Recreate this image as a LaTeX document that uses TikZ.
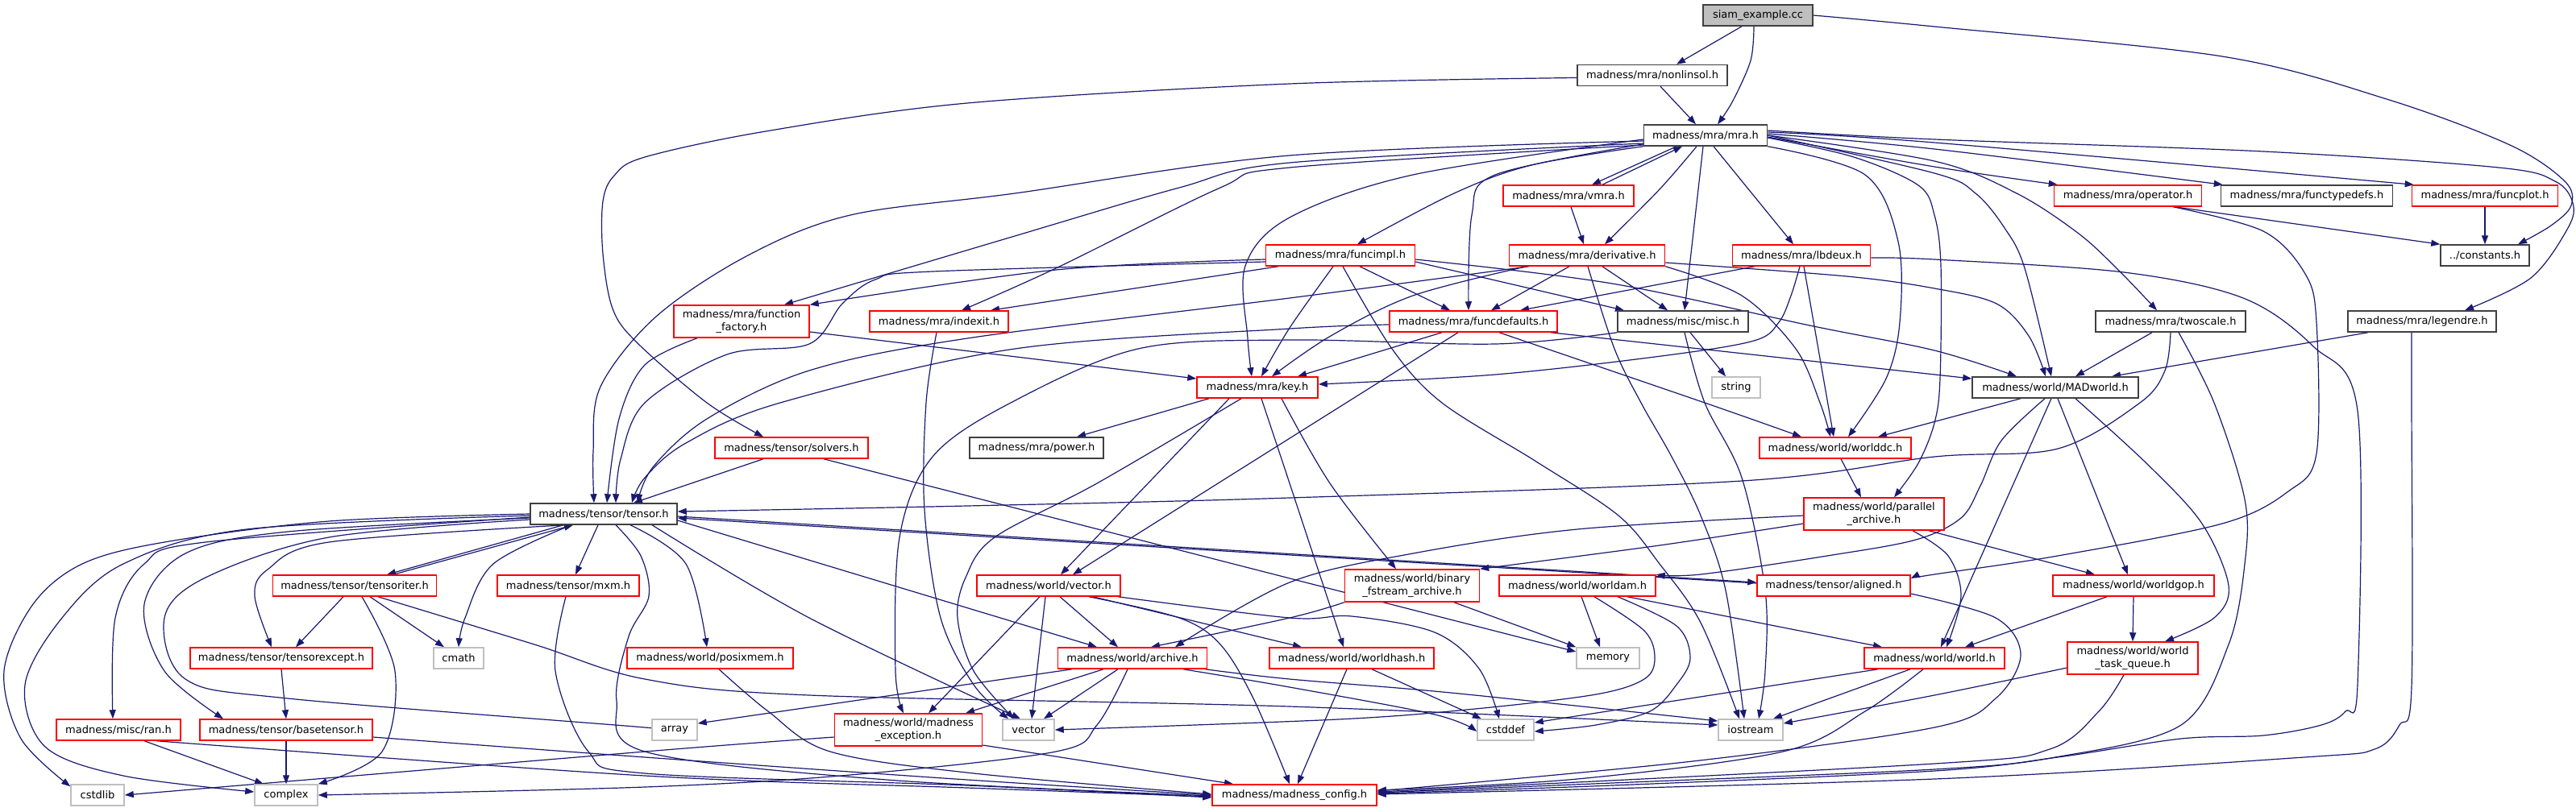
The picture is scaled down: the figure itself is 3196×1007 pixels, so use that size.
\documentclass[tikz,border=0pt]{standalone}
\usepackage{fontspec}
\setmainfont{DejaVu Sans}
\usetikzlibrary{arrows.meta,backgrounds}
\definecolor{edgec}{HTML}{191970}
\definecolor{redb}{HTML}{FF0000}
\definecolor{blackb}{HTML}{404040}
\definecolor{greyb}{HTML}{BFBFBF}
\newcommand\lblfont{\fontsize{13}{15.5}\selectfont}
\tikzset{
 nd/.style={draw, line width=1.5pt, fill=white, minimum height=26pt, inner sep=0pt, font=\lblfont, align=center},
 rn/.style={nd, draw=redb},
 bn/.style={nd, draw=blackb},
 gn/.style={nd, draw=greyb},
 tall/.style={minimum height=40pt},
 e/.style={draw=edgec, line width=1.2pt, -{Triangle[length=11pt,width=8pt]}},
}
\newcommand\edg[1]{\draw[e] plot[smooth, tension=0.55] coordinates {#1};}
\begin{document}
\begin{tikzpicture}[x=1pt,y=-1pt]
\useasboundingbox (0,0) rectangle (3196,1007);
% ---------- nodes ----------
\node[bn, fill=greyb, minimum width=136pt] (siam) at (2181,19) {siam\_example.cc};
\node[bn, minimum width=186pt] (nonlin) at (2050,93.5) {madness/mra/nonlinsol.h};
\node[bn, minimum width=153pt] (mra) at (2116,168) {madness/mra/mra.h};
\node[rn, minimum width=162pt] (vmra) at (1946,243) {madness/mra/vmra.h};
\node[rn, minimum width=183pt] (operator) at (2640,243) {madness/mra/operator.h};
\node[bn, minimum width=213pt] (functypedefs) at (2862,243) {madness/mra/functypedefs.h};
\node[rn, minimum width=181pt] (funcplot) at (3083,243) {madness/mra/funcplot.h};
\node[rn, minimum width=185pt] (funcimpl) at (1663,317) {madness/mra/funcimpl.h};
\node[rn, minimum width=193pt] (deriv) at (1969,317) {madness/mra/derivative.h};
\node[rn, minimum width=171pt] (lbdeux) at (2235,317) {madness/mra/lbdeux.h};
\node[bn, minimum width=110pt] (constants) at (3083,317) {../constants.h};
\node[rn, tall, minimum width=168pt] (funcfactory) at (920,399) {madness/mra/function\\\_factory.h};
\node[rn, minimum width=172pt] (indexit) at (1165,399) {madness/mra/indexit.h};
\node[rn, minimum width=208pt] (funcdef) at (1828,399) {madness/mra/funcdefaults.h};
\node[bn, minimum width=162pt] (misc) at (2088,399) {madness/misc/misc.h};
\node[bn, minimum width=186pt] (twoscale) at (2693,399) {madness/mra/twoscale.h};
\node[bn, minimum width=184pt] (legendre) at (3005,399) {madness/mra/legendre.h};
\node[rn, minimum width=150pt] (key) at (1560,481) {madness/mra/key.h};
\node[gn, minimum width=60pt] (string) at (2154,481) {string};
\node[bn, minimum width=206pt] (MADworld) at (2550,481) {madness/world/MADworld.h};
\node[rn, minimum width=190pt] (solvers) at (982,556) {madness/tensor/solvers.h};
\node[bn, minimum width=166pt] (power) at (1286,556) {madness/mra/power.h};
\node[rn, minimum width=188pt] (worlddc) at (2277,556) {madness/world/worlddc.h};
\node[bn, minimum width=182pt] (tensor) at (749,638) {madness/tensor/tensor.h};
\node[rn, tall, minimum width=174pt] (parallel) at (2325,638) {madness/world/parallel\\\_archive.h};
\node[rn, minimum width=203pt] (tensoriter) at (440,727) {madness/tensor/tensoriter.h};
\node[rn, minimum width=176pt] (mxm) at (705,727) {madness/tensor/mxm.h};
\node[rn, minimum width=178pt] (vectorh) at (1301,727) {madness/world/vector.h};
\node[rn, tall, minimum width=167pt] (binary) at (1752,727) {madness/world/binary\\\_fstream\_archive.h};
\node[rn, minimum width=194pt] (worldam) at (1957,727) {madness/world/worldam.h};
\node[rn, minimum width=190pt] (aligned) at (2275,727) {madness/tensor/aligned.h};
\node[rn, minimum width=200pt] (worldgop) at (2647,727) {madness/world/worldgop.h};
\node[rn, minimum width=226pt] (tensorexcept) at (349,817) {madness/tensor/tensorexcept.h};
\node[gn, minimum width=62pt] (cmath) at (569,817) {cmath};
\node[rn, minimum width=206pt] (posixmem) at (881,817) {madness/world/posixmem.h};
\node[rn, minimum width=185pt] (archive) at (1405,817) {madness/world/archive.h};
\node[rn, minimum width=204pt] (worldhash) at (1677,817) {madness/world/worldhash.h};
\node[gn, minimum width=78pt] (memory) at (1995,817) {memory};
\node[rn, minimum width=174pt] (worldh) at (2400,817) {madness/world/world.h};
\node[rn, tall, minimum width=162pt] (wtq) at (2646,817) {madness/world/world\\\_task\_queue.h};
\node[rn, minimum width=154pt] (ran) at (147,906) {madness/misc/ran.h};
\node[rn, minimum width=214pt] (basetensor) at (355,906) {madness/tensor/basetensor.h};
\node[gn, minimum width=56pt] (array) at (837,906) {array};
\node[rn, tall, minimum width=183pt] (mexc) at (1127,906) {madness/world/madness\\\_exception.h};
\node[gn, minimum width=64pt] (stdvector) at (1276,906) {vector};
\node[gn, minimum width=70pt] (cstddef) at (1868,906) {cstddef};
\node[gn, minimum width=80pt] (iostream) at (2172,906) {iostream};
\node[gn, minimum width=66pt] (cstdlib) at (121,987) {cstdlib};
\node[gn, minimum width=78pt] (complex) at (355,987) {complex};
\node[rn, minimum width=204pt] (config) at (1606,987) {madness/madness\_config.h};
% ---------- edges ----------
\begin{scope}[on background layer]
% siam
\draw[e] ([xshift=-20pt]siam.south) -- ([xshift=30pt]nonlin.north);
\edg{([xshift=-5pt]siam.south) (2172,75) (2150,125) ([xshift=15pt]mra.north)}
\edg{(siam.east) (2400,33) (2757,70) (2961,123) (3114,180) (3182,225) (3190,255) (3165,280) ([xshift=41pt]constants.north)}
% nonlinsol
\draw[e] ([xshift=10pt]nonlin.south) -- ([xshift=-12pt]mra.north);
\edg{([yshift=-3pt]nonlin.west) (1600,104) (1200,128) (950,163) (800,195) (762,218) (748,250) (748,315) (760,383) (790,425) (877,500) ([xshift=-35pt]solvers.north)}
% mra
\edg{([yshift=-7pt]mra.west) (1600,193) (1259,240) (1055,267) (928,317) (814,393) (745,480) (736,560) ([xshift=-12pt]tensor.north)}
\edg{([yshift=-10pt]mra.west) (1600,202) (1463,233) (1259,293) ([xshift=53pt]funcfactory.north)}
\edg{([yshift=-12pt]mra.west) (1600,208) (1514,233) (1310,333) ([xshift=28pt]indexit.north)}
\edg{(mra.south west) (1900,205) (1804,240) ([xshift=21pt]funcimpl.north)}
\edg{([yshift=-5pt]mra.west) (1753,217) (1600,270) (1545,330) (1548,420) ([xshift=-7pt]key.north)}
\edg{([yshift=-11pt]mra.west) (1855,217) (1826,267) ([xshift=-6pt]funcdef.north)}
\draw[e] ([xshift=-36pt]mra.south) -- ([xshift=29pt]vmra.north);
\draw[e] ([xshift=42pt]vmra.north) -- ([xshift=-29pt]mra.south);
\edg{([xshift=-11pt]mra.south) (2059,235) ([xshift=22pt]deriv.north)}
\draw[e] ([xshift=-3pt]mra.south) -- ([xshift=2pt]misc.north);
\draw[e] ([xshift=10pt]mra.south) -- ([xshift=-10pt]lbdeux.north);
\edg{(mra.south east) (2314,217) (2355,300) (2357,400) (2340,470) ([xshift=16pt]worlddc.north)}
\edg{([yshift=-3pt]mra.east) (2300,195) (2380,230) (2400,267) (2408,330) (2407,470) (2400,525) (2380,575) ([xshift=25pt]parallel.north)}
\edg{(mra.east) (2400,215) (2451,240) (2487,283) (2512,333) ([xshift=-5pt]MADworld.north)}
\edg{(mra.east) (2400,200) (2502,240) (2579,290) (2630,337) ([xshift=-17pt]twoscale.north)}
\edg{([yshift=-2pt]mra.east) (2400,207) ([xshift=5pt]operator.north west)}
\edg{([yshift=2pt]mra.east) (2400,185) ([xshift=3pt]functypedefs.north west)}
\edg{([yshift=4pt]mra.east) (2400,177) ([xshift=3pt]funcplot.north west)}
\edg{([yshift=6pt]mra.east) (2400,173) (2808,188) (3100,208) (3170,225) (3192,252) (3186,283) (3140,345) ([xshift=53pt]legendre.north)}
% vmra, funcplot, operator
\draw[e] ([xshift=3pt]vmra.south) -- ([xshift=-4pt]deriv.north);
\draw[e] (funcplot.south) -- (constants.north);
\draw[e] ([xshift=58pt]operator.south) -- (constants.north west);
\edg{([xshift=56pt]operator.south) (2808,287) (2860,340) (2874,400) (2874,563) (2839,610) (2757,650) (2553,690) (2400,713) ([yshift=9pt]aligned.east)}
% funcimpl
\edg{([yshift=-5pt]funcimpl.west) (1310,335) (funcfactory.north east)}
\edg{([yshift=-8pt]funcimpl.west) (1157,337) (1086,347) (1045,377) (1004,427) (902,440) (800,500) (770,570) ([xshift=15pt]tensor.north)}
\draw[e] ([xshift=-77pt]funcimpl.south) -- ([xshift=64pt]indexit.north);
\edg{([xshift=-9pt]funcimpl.south) (1600,407) ([xshift=5pt]key.north)}
\draw[e] ([xshift=24pt]funcimpl.south) -- ([xshift=-29pt]funcdef.north);
\draw[e] ([yshift=-8pt]funcimpl.east) -- ([xshift=-73pt]misc.north);
\edg{([yshift=-5pt]funcimpl.east) (2000,352) (2250,405) (2400,435) ([xshift=-48pt]MADworld.north)}
\edg{([xshift=3pt]funcimpl.south) (1727,433) (1789,500) (1906,573) (2008,640) (2059,700) (2110,773) ([xshift=-14pt]iostream.north)}
% derivative
\edg{(deriv.south east) (2161,367) (2228,433) (2258,500) ([xshift=-6pt]worlddc.north)}
\edg{([yshift=-9pt]deriv.east) (2291,343) (2400,358) (2477,377) (2517,417) ([xshift=-12pt]MADworld.north)}
\edg{([xshift=-72pt]deriv.south) (1600,370) (1200,420) (1004,460) (877,520) (810,580) ([xshift=42pt]tensor.north)}
\edg{([xshift=-75pt]deriv.south) (1753,367) (1651,417) ([xshift=18pt]key.north)}
\draw[e] ([xshift=-22pt]deriv.south) -- ([xshift=22pt]funcdef.north);
\draw[e] ([xshift=19pt]deriv.south) -- ([xshift=-19pt]misc.north);
\edg{([xshift=1pt]deriv.south) (2003,433) (2036,500) (2074,567) (2110,640) (2141,733) ([xshift=-8pt]iostream.north)}
% lbdeux
\draw[e] ([xshift=-58pt]lbdeux.south) -- ([xshift=58pt]funcdef.north);
\edg{([xshift=-2pt]lbdeux.south) (2222,367) (2207,400) (2176,423) (2061,442) (1855,465) ([yshift=4pt]key.east)}
\draw[e] ([xshift=3pt]lbdeux.south) -- ([xshift=-2pt]worlddc.north);
\edg{([yshift=-3pt]lbdeux.east) (2400,322) (2635,338) (2783,370) (2870,430) (2925,510) (2925,850) (2910,883) (2880,900) (2808,913) (2706,917) (2553,940) (2400,957) (2000,975) ([yshift=2pt]config.east)}
% misc
\draw[e] ([xshift=9pt]misc.south) -- ([xshift=-13pt]string.north);
\edg{([xshift=2pt]misc.south) (2115,500) (2161,593) (2190,733) (2190,833) ([xshift=10pt]iostream.north)}
\edg{(misc.south west) (1855,427) (1600,422) (1412,433) (1254,500) (1157,567) (1116,667) (1111,833) ([xshift=-6pt]mexc.north)}
% funcdefaults
\edg{([xshift=32pt]funcdef.south) (2115,500) ([xshift=-42pt]worlddc.north)}
\draw[e] ([xshift=96pt]funcdef.south) -- ([yshift=11pt]MADworld.west);
\edg{([yshift=-4pt]funcdef.west) (1600,408) (1259,433) (968,500) (851,550) (800,593) ([xshift=35pt]tensor.north)}
\draw[e] ([xshift=-39pt]funcdef.south) -- ([xshift=50pt]key.north);
\draw[e] ([xshift=-19pt]funcdef.south) -- ([xshift=30pt]vectorh.north);
% function_factory, indexit
\edg{([xshift=-55pt]funcfactory.south) (800,453) (768,520) ([xshift=4pt]tensor.north)}
\draw[e] ([yshift=-13pt]funcfactory.east) -- ([yshift=11pt]key.west);
\edg{([xshift=-3pt]indexit.south) (1149,500) (1147,633) (1167,767) (1208,850) ([xshift=-25pt]stdvector.north)}
% key
\draw[e] ([xshift=-60pt]key.south) -- ([xshift=50pt]power.north);
\draw[e] ([xshift=-35pt]key.south) -- ([xshift=15pt]vectorh.north);
\edg{([xshift=-20pt]key.south) (1361,600) (1234,667) (1198,717) (1188,767) (1208,833) ([xshift=-18pt]stdvector.north)}
\edg{([xshift=30pt]key.south) (1650,600) ([xshift=-20pt]binary.north)}
\edg{([xshift=5pt]key.south) (1600,600) ([xshift=-10pt]worldhash.north)}
% solvers
\draw[e] ([xshift=-35pt]solvers.south) -- ([xshift=37pt]tensor.north);
\draw[e] ([xshift=40pt]solvers.south) -- ([yshift=8pt]memory.west);
% tensor
\draw[e] ([xshift=-50pt]tensor.south) -- ([xshift=40pt]tensoriter.north);
\draw[e] ([xshift=48pt]tensoriter.north) -- ([xshift=-38pt]tensor.south);
\edg{([xshift=-47pt]tensor.south) (408,673) (332,707) (316,740) ([xshift=-12pt]tensorexcept.north)}
\edg{([xshift=-40pt]tensor.south) (612,700) (577,767) (cmath.north)}
\draw[e] ([xshift=-7pt]tensor.south) -- ([xshift=9pt]mxm.north);
\edg{(tensor.west) (408,647) (204,673) (102,700) (41,750) (5,833) (26,917) ([yshift=-3pt]cstdlib.north west)}
\edg{([yshift=-2pt]tensor.west) (306,657) (153,700) (77,767) (31,850) (56,927) (153,963) ([yshift=4pt]complex.west)}
\edg{([yshift=-4pt]tensor.west) (255,673) (179,700) (143,767) ([xshift=-7pt]ran.north)}
\edg{([yshift=-5pt]tensor.west) (357,660) (230,687) (179,750) (204,833) ([xshift=-78pt]basetensor.north)}
\edg{([yshift=-7pt]tensor.west) (408,667) (255,717) (204,767) (230,843) (357,867) (800,903) (array.west)}
\edg{([xshift=33pt]tensor.south) (851,700) ([xshift=-4pt]posixmem.north)}
\edg{([xshift=60pt]tensor.south) (1004,767) ([xshift=-10pt]stdvector.north)}
\draw[e] ([yshift=-8pt]tensor.east) -- ([xshift=-44pt]archive.north);
\draw[e] ([yshift=-3pt]tensor.east) -- ([yshift=4pt]aligned.west);
\draw[e] ([yshift=3pt]aligned.west) -- ([yshift=-5pt]tensor.east);
\edg{([xshift=15pt]tensor.south) (795,690) (805,740) (780,790) (765,870) (800,933) (1100,968) ([yshift=-1pt]config.west)}
% tensoriter
\draw[e] ([xshift=-14pt]tensoriter.south) -- ([xshift=18pt]tensorexcept.north);
\draw[e] ([xshift=19pt]tensoriter.south) -- ([xshift=-18pt]cmath.north);
\edg{([xshift=9pt]tensoriter.south) (490,833) (474,933) (complex.north east)}
\edg{([xshift=29pt]tensoriter.south) (663,800) (800,843) (1004,863) (1600,877) ([yshift=6pt]iostream.west)}
% tensorexcept, ran, basetensor, mxm, posixmem
\draw[e] (tensorexcept.south) -- (basetensor.north);
\draw[e] ([xshift=32pt]ran.south) -- ([xshift=-28pt]complex.north);
\edg{([xshift=47pt]ran.south) (800,963) (1200,978) ([yshift=-2pt]config.west)}
\draw[e] (basetensor.south) -- (complex.north);
\edg{([yshift=-9pt]basetensor.east) (800,940) (1200,968) (config.west)}
\edg{([xshift=-3pt]mxm.south) (689,833) (730,933) (800,960) (1200,975) ([yshift=-3pt]config.west)}
\edg{([xshift=11pt]posixmem.south) (953,883) (1030,933) (1208,960) ([yshift=1pt]config.west)}
% madness_exception
\edg{([yshift=-9pt]mexc.west) (800,933) (cstdlib.east)}
\draw[e] ([yshift=-19pt]mexc.east) -- ([xshift=-76pt]config.north);
% vector.h
\draw[e] ([xshift=-11pt]vectorh.south) -- ([xshift=25pt]mexc.north);
\draw[e] ([xshift=-4pt]vectorh.south) -- ([xshift=4pt]stdvector.north);
\draw[e] ([xshift=14pt]vectorh.south) -- ([xshift=-18pt]archive.north);
\edg{([xshift=50pt]vectorh.south) (1463,767) (1514,800) (1555,867) ([xshift=-6pt]config.north)}
\draw[e] ([xshift=55pt]vectorh.south) -- ([xshift=-62pt]worldhash.north);
\edg{([xshift=86pt]vectorh.south) (1600,767) (1677,765) (1780,785) (1835,830) ([xshift=-8pt]cstddef.north)}
% archive
\draw[e] ([xshift=-36pt]archive.south) -- ([xshift=71pt]mexc.north);
\draw[e] ([xshift=-75pt]archive.south) -- ([yshift=8pt]array.east);
\draw[e] ([xshift=-18pt]archive.south) -- ([xshift=19pt]stdvector.north);
\edg{([xshift=-6pt]archive.south) (1361,900) (1310,933) (1055,962) (800,977) (complex.east)}
\edg{([xshift=63pt]archive.south) (1600,853) (1780,887) ([yshift=-2pt]cstddef.west)}
\edg{([xshift=90pt]archive.south) (1600,843) (1800,860) ([yshift=11pt]iostream.west)}
% worldhash, binary
\draw[e] ([xshift=-6pt]worldhash.south) -- ([xshift=4pt]config.north);
\draw[e] ([xshift=25pt]worldhash.south) -- ([xshift=-30pt]cstddef.north);
\draw[e] ([xshift=52pt]binary.south) -- (memory.north west);
\edg{(binary.south west) (1600,767) ([xshift=23pt]archive.north)}
% parallel_archive, worlddc
\edg{([yshift=-2pt]parallel.west) (1957,657) (1753,687) (1600,723) ([xshift=53pt]archive.north)}
\edg{([yshift=-12pt]parallel.west) (2059,677) (binary.north east)}
\draw[e] ([xshift=68pt]parallel.south) -- ([xshift=-48pt]worldgop.north);
\edg{([xshift=48pt]parallel.south) (2417,690) (2433,740) ([xshift=15pt]worldh.north)}
\draw[e] ([xshift=7pt]worlddc.south) -- ([xshift=-16pt]parallel.north);
% MADworld
\draw[e] ([xshift=-43pt]MADworld.south) -- ([xshift=53pt]worlddc.north);
\edg{([xshift=-13pt]MADworld.south) (2483,547) (2457,603) (2433,643) (2377,670) (2267,690) (2110,713) (worldam.north east)}
\draw[e] ([xshift=-5pt]MADworld.south) -- ([xshift=8pt]worldh.north);
\draw[e] ([xshift=3pt]MADworld.south) -- ([xshift=-7pt]worldgop.north);
\edg{([xshift=25pt]MADworld.south) (2665,577) (2732,650) (2765,727) (2747,767) ([xshift=40pt]wtq.north)}
% worldgop, wtq, world.h, worldam, aligned
\draw[e] ([xshift=-33pt]worldgop.south) -- ([xshift=38pt]worldh.north);
\draw[e] (worldgop.south) -- (wtq.north);
\edg{([yshift=-12pt]wtq.west) (2400,863) ([yshift=8pt]iostream.east)}
\edg{([xshift=-11pt]wtq.south) (2604,883) (2543,930) (2400,948) ([yshift=4pt]config.east)}
\draw[e] ([xshift=-70pt]worldh.south) -- ([yshift=9pt]cstddef.east);
\draw[e] ([xshift=-30pt]worldh.south) -- ([xshift=28pt]iostream.north);
\edg{([xshift=-14pt]worldh.south) (2314,883) (2212,933) (1957,967) ([yshift=6pt]config.east)}
\draw[e] ([xshift=5pt]worldam.south) -- ([xshift=-10pt]memory.north);
\edg{([xshift=21pt]worldam.south) (2040,783) (2053,817) (2040,843) (1980,862) (1830,880) (1660,893) (stdvector.east)}
\edg{([xshift=50pt]worldam.south) (2080,777) (2097,817) (2080,850) (2047,883) (1980,900) ([yshift=-2pt]cstddef.east)}
\draw[e] ([xshift=62pt]worldam.south) -- ([xshift=-65pt]worldh.north);
\edg{([yshift=-10pt]aligned.east) (2476,767) (2507,813) (2476,867) (2400,903) (2100,945) ([yshift=5pt]config.east)}
% twoscale, legendre
\draw[e] ([xshift=-23pt]twoscale.south) -- ([xshift=25pt]MADworld.north);
\edg{(twoscale.south) (2686,460) (2655,500) (2553,557) (2400,567) (2161,597) (1600,618) (1200,628) ([yshift=3pt]tensor.east)}
\edg{([xshift=10pt]twoscale.south) (2747,500) (2785,620) (2785,700) (2765,800) (2706,900) (2550,940) (2400,955) (2000,972) ([yshift=3pt]config.east)}
\draw[e] ([xshift=-67pt]legendre.south) -- ([xshift=70pt]MADworld.north);
\edg{([xshift=-13pt]legendre.south) (2992,500) (2992,853) (2977,900) (2946,930) (2859,940) (2400,967) ([yshift=1pt]config.east)}
\end{scope}
\end{tikzpicture}
\end{document}
